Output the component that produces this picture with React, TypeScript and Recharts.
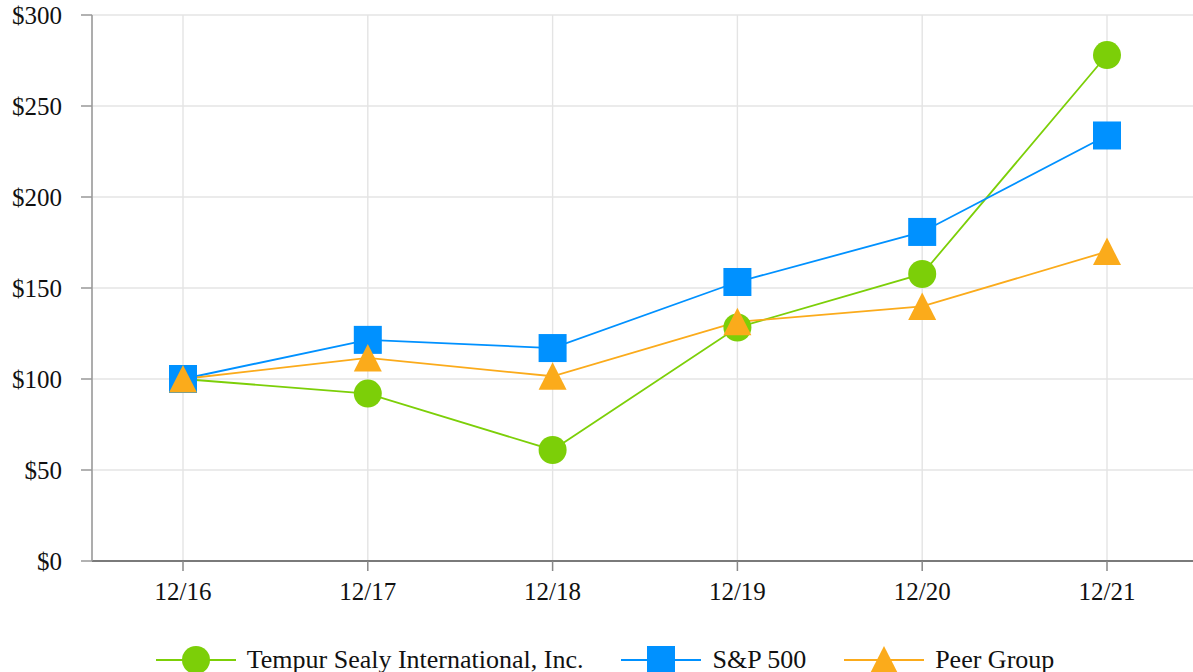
import React from "react";
import {
  LineChart,
  Line,
  XAxis,
  YAxis,
  CartesianGrid,
  Legend,
} from "recharts";

const years = ["12/16", "12/17", "12/18", "12/19", "12/20", "12/21"];
const tempur = [100, 92, 61, 128.3, 157.7, 278];
const sp500 = [100, 121.5, 117, 153.3, 180.8, 233.8];
const peer = [100, 111.6, 101.5, 131.4, 139.9, 170];
const yTicks = [0, 50, 100, 150, 200, 250, 300];

const GREEN = "#7ccf08";
const BLUE = "#0091ff";
const ORANGE = "#fbab1b";
const FONT = '"Liberation Serif", "Times New Roman", serif';

const data = years.map((y, i) => ({
  year: y,
  tempur: tempur[i],
  sp: sp500[i],
  peer: peer[i],
}));

const series = [
  { key: "tempur", name: "Tempur Sealy International, Inc.", color: GREEN, shape: "circle" },
  { key: "sp", name: "S&P 500", color: BLUE, shape: "square" },
  { key: "peer", name: "Peer Group", color: ORANGE, shape: "triangle" },
];

function Marker({ cx, cy, shape, color }: any) {
  if (cx == null || cy == null) return null;
  if (shape === "square") {
    return <rect x={cx - 14} y={cy - 14} width={28} height={28} fill={color} />;
  }
  if (shape === "triangle") {
    return (
      <polygon
        points={`${cx},${cy - 14} ${cx + 14},${cy + 13.5} ${cx - 14},${cy + 13.5}`}
        fill={color}
      />
    );
  }
  return <circle cx={cx} cy={cy} r={14} fill={color} />;
}

function LegendContent() {
  return (
    <div
      style={{
        display: "flex",
        justifyContent: "center",
        alignItems: "center",
        height: 36,
        fontFamily: FONT,
        fontSize: 26,
        color: "#111",
      }}
    >
      {series.map((s, i) => (
        <div
          key={s.key}
          style={{
            display: "flex",
            alignItems: "center",
            marginRight: i < series.length - 1 ? 38 : 0,
          }}
        >
          <svg width={80} height={30}>
            <line x1={0} y1={15} x2={80} y2={15} stroke={s.color} strokeWidth={2} />
            <Marker cx={40} cy={15} shape={s.shape} color={s.color} />
          </svg>
          <span style={{ marginLeft: 11, whiteSpace: "nowrap" }}>{s.name}</span>
        </div>
      ))}
    </div>
  );
}

export default function App() {
  return (
    <div style={{ position: "absolute", left: 0, top: 0 }}>
      <LineChart
        width={1210}
        height={672}
        data={data}
        margin={{ top: 15, right: 12, left: 0, bottom: 25 }}
      >
        <CartesianGrid stroke="#e4e4e4" strokeWidth={1.4} />
        <XAxis
          dataKey="year"
          padding={{ left: 91, right: 91 }}
          height={50}
          tickSize={10}
          tickMargin={11}
          axisLine={{ stroke: "#555", strokeWidth: 1.5 }}
          tickLine={{ stroke: "#888", strokeWidth: 1.5 }}
          tick={{ fill: "#111", fontSize: 25, fontFamily: FONT }}
        />
        <YAxis
          width={92}
          domain={[0, 300]}
          ticks={yTicks}
          interval={0}
          tickSize={11}
          tickMargin={19}
          tickFormatter={(v: number) => `$${v}`}
          axisLine={{ stroke: "#999", strokeWidth: 1.5 }}
          tickLine={{ stroke: "#999", strokeWidth: 1.5 }}
          tick={{ fill: "#111", fontSize: 25, fontFamily: FONT }}
        />
        <Legend
          verticalAlign="bottom"
          content={<LegendContent />}
          wrapperStyle={{ top: 642, bottom: "auto", left: 0, width: 1210 }}
        />
        {series.map((s) => (
          <Line
            key={s.key}
            dataKey={s.key}
            name={s.name}
            stroke={s.color}
            strokeWidth={1.8}
            isAnimationActive={false}
            dot={(p: any) => (
              <Marker key={`${s.key}-${p.index}`} cx={p.cx} cy={p.cy} shape={s.shape} color={s.color} />
            )}
            activeDot={false}
          />
        ))}
      </LineChart>
    </div>
  );
}
